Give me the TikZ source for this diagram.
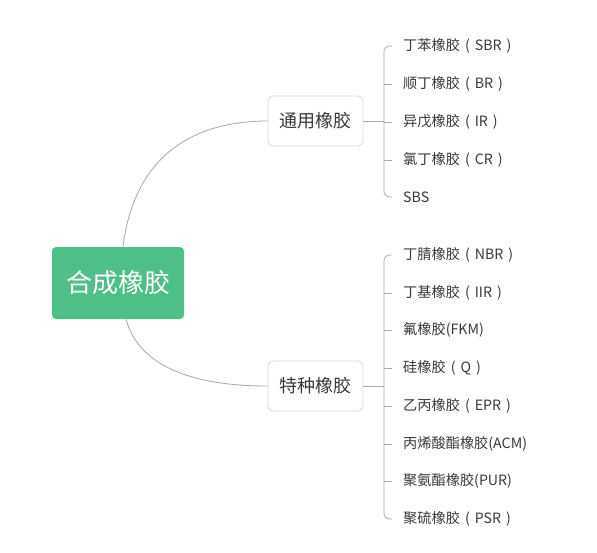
\documentclass[tikz,border=0pt]{standalone}
\usepackage{fontspec}
\setmainfont{Noto Sans CJK SC}
\usetikzlibrary{calc}
\definecolor{rootgreen}{HTML}{4FBF88}
\definecolor{conngray}{HTML}{A8A8A8}
\definecolor{boxgray}{HTML}{D8D8D8}
\definecolor{txt}{HTML}{3A3A3A}
\newcommand{\fparen}[1]{\hspace{5pt}(\hspace{5pt}#1\hspace{5pt})}
\begin{document}
\begin{tikzpicture}[x=1pt,y=-1pt,
  rootbox/.style={draw=none, fill=rootgreen, rounded corners=4pt, minimum width=132pt, minimum height=72pt,
    text=white, font=\fontsize{26}{30}\selectfont, inner sep=0pt},
  midbox/.style={draw=boxgray, fill=white, rounded corners=5pt, minimum width=95pt, minimum height=50pt,
    text=txt, font=\fontsize{18}{22}\selectfont, inner sep=0pt, line width=0.8pt},
  leaf/.style={anchor=west, inner sep=0pt, text=txt, font=\fontsize{14.2}{17}\selectfont},
  conn/.style={draw=conngray, line width=0.8pt}]
\useasboundingbox (0,0) rectangle (597,552);
\fill[white] (0,0) rectangle (597,552);

\node[rootbox] (root) at (118,283) {合成橡胶};
\node[midbox] (g) at (315.5,121) {通用橡胶};
\node[midbox] (s) at (315.5,386) {特种橡胶};

\node[leaf] (g1) at (403,46) {丁苯橡胶\fparen{SBR}};
\node[leaf] (g2) at (403,84) {顺丁橡胶\fparen{BR}};
\node[leaf] (g3) at (403,122) {异戊橡胶\fparen{IR}};
\node[leaf] (g4) at (403,160) {氯丁橡胶\fparen{CR}};
\node[leaf] (g5) at (403,197) {SBS};

\node[leaf] (s1) at (403,255) {丁腈橡胶\fparen{NBR}};
\node[leaf] (s2) at (403,293) {丁基橡胶\fparen{IIR}};
\node[leaf] (s3) at (403,330) {氟橡胶(FKM)};
\node[leaf] (s4) at (403,368) {硅橡胶\fparen{Q}};
\node[leaf] (s5) at (403,406) {乙丙橡胶\fparen{EPR}};
\node[leaf] (s6) at (403,444) {丙烯酸酯橡胶(ACM)};
\node[leaf] (s7) at (403,481) {聚氨酯橡胶(PUR)};
\node[leaf] (s8) at (403,519) {聚硫橡胶\fparen{PSR}};

% curves from root
\draw[conn] ([xshift=5pt]root.north) .. controls (135,150) and (200,121) .. (g.west);
\draw[conn] ([xshift=8pt]root.south) .. controls (140,370) and (200,386) .. (s.west);

% brackets
\draw[conn, rounded corners=5pt] ([xshift=-11pt]g1.west) -- ++(-8pt,0) |- ([xshift=-11pt]g5.west);
\foreach \i in {2,3,4} \draw[conn] ([xshift=-11pt]g\i.west) -- ++(-8pt,0);
\draw[conn] (g.east) -- ($(g.east -| g1.west)+(-19pt,0)$);

\draw[conn, rounded corners=5pt] ([xshift=-11pt]s1.west) -- ++(-8pt,0) |- ([xshift=-11pt]s8.west);
\foreach \i in {2,3,4,5,6,7} \draw[conn] ([xshift=-11pt]s\i.west) -- ++(-8pt,0);
\draw[conn] (s.east) -- ($(s.east -| s1.west)+(-19pt,0)$);
\end{tikzpicture}
\end{document}
